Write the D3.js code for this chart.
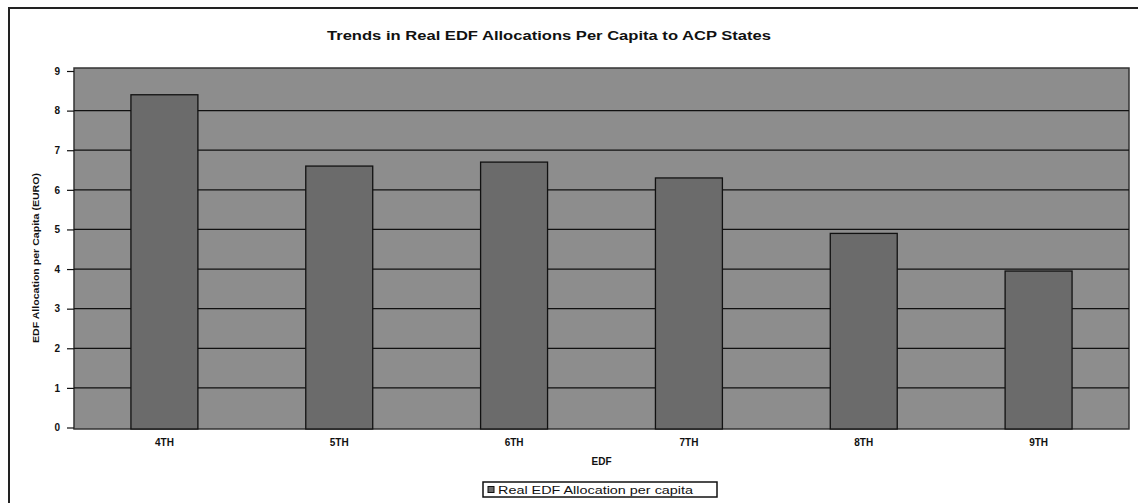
<!DOCTYPE html>
<html><head><meta charset="utf-8">
<script src="https://cdn.jsdelivr.net/npm/d3@7"></script>
<style>body{margin:0;background:#fff}svg{display:block}text{font-family:Arial,"Liberation Sans",sans-serif}</style>
</head><body>
<svg id="c" width="1138" height="503"></svg>
<script>
const categories = ["4TH","5TH","6TH","7TH","8TH","9TH"];
const values = [8.4, 6.6, 6.7, 6.3, 4.9, 3.95];
const yTicks = [0,1,2,3,4,5,6,7,8,9];
const title = "Trends in Real EDF Allocations Per Capita to ACP States";
const xTitle = "EDF";
const yTitle = "EDF Allocation per Capita (EURO)";
const seriesName = "Real EDF Allocation per capita";

const svg = d3.select("#c");
// outer chart border
svg.append("rect").attr("x",9).attr("y",8).attr("width",1160).attr("height",520)
  .attr("fill","#fff").attr("stroke","#222").attr("stroke-width",2);

const pl = 74, pr = 1129, pt = 68, pb = 429;
const x = d3.scaleBand().domain(categories).range([77,1126]).paddingInner(0.617).paddingOuter(0.3085);
const y = d3.scaleLinear().domain([0,9]).range([427.5,71]);

svg.append("rect").attr("x",pl).attr("y",pt).attr("width",pr-pl).attr("height",pb-pt)
  .attr("fill","#8d8d8d").attr("stroke","#333").attr("stroke-width",1.5);

// gridlines
svg.append("g").selectAll("line").data(yTicks.filter(d=>d>0&&d<9)).join("line")
  .attr("x1",pl).attr("x2",pr).attr("y1",d=>y(d)).attr("y2",d=>y(d))
  .attr("stroke","#111").attr("stroke-width",1.3);

// bars
svg.append("g").selectAll("rect").data(values).join("rect")
  .attr("x",(d,i)=>x(categories[i])).attr("width",x.bandwidth())
  .attr("y",d=>y(d)).attr("height",d=>y(0)-y(d)+1.5)
  .attr("fill","#6b6b6b").attr("stroke","#111").attr("stroke-width",1.3);

// y axis
const ya = d3.axisLeft(y).tickValues(yTicks).tickSize(7).tickPadding(7);
const gy = svg.append("g").attr("transform",`translate(${pl},0)`).call(ya);
gy.select(".domain").remove();
gy.selectAll(".tick line").attr("stroke","#111").attr("stroke-width",1.2);
gy.selectAll("text").attr("font-size",10).attr("font-weight","bold").attr("fill","#111");

// x axis
const xa = d3.axisBottom(x).tickSize(0).tickPadding(10);
const gx = svg.append("g").attr("transform",`translate(0,${pb})`).call(xa);
gx.select(".domain").remove();
gx.selectAll("text").attr("font-size",10).attr("font-weight","bold").attr("fill","#111");

// titles
svg.append("text").attr("x",549).attr("y",40).attr("text-anchor","middle")
  .attr("font-size",12.5).attr("font-weight","bold").attr("fill","#111")
  .attr("textLength",444).attr("lengthAdjust","spacingAndGlyphs").text(title);
svg.append("text").attr("x",601.5).attr("y",465).attr("text-anchor","middle")
  .attr("font-size",10).attr("font-weight","bold").attr("fill","#111").text(xTitle);
svg.append("text").attr("transform","translate(39,258) rotate(-90)").attr("text-anchor","middle")
  .attr("font-size",9).attr("font-weight","bold").attr("fill","#111")
  .attr("textLength",170).attr("lengthAdjust","spacingAndGlyphs").text(yTitle);

// legend
const lg = svg.append("g");
lg.append("rect").attr("x",483).attr("y",482).attr("width",234).attr("height",15)
  .attr("fill","#fff").attr("stroke","#111").attr("stroke-width",1.5);
lg.append("rect").attr("x",488).attr("y",486.5).attr("width",6).attr("height",6)
  .attr("fill","#6b6b6b").attr("stroke","#111").attr("stroke-width",1);
lg.append("text").attr("x",498).attr("y",493.5).attr("font-size",10).attr("fill","#111")
  .attr("textLength",195).attr("lengthAdjust","spacingAndGlyphs").text(seriesName);
</script>
</body></html>
